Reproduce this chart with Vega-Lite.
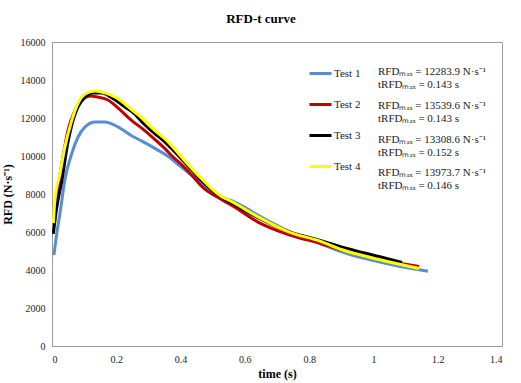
{
  "$schema": "https://vega.github.io/schema/vega-lite/v6.json",
  "autosize": "none",
  "width": 450,
  "height": 304,
  "padding": {"left": 52, "top": 42, "right": 19, "bottom": 37},
  "background": "white",
  "title": {"text": "RFD-t curve", "fontSize": 13, "font": "Liberation Serif", "fontWeight": "bold", "color": "#000000", "anchor": "middle", "dx": -16, "offset": 11},
  "config": {
    "view": {"stroke": "#9a9a9a", "strokeWidth": 1},
    "font": "Liberation Serif",
    "axis": {"grid": false, "ticks": false, "labelOverlap": false, "domainColor": "#9a9a9a", "labelFont": "Liberation Serif", "labelFontSize": 10, "labelColor": "#222222", "titleFont": "Liberation Serif", "titleFontSize": 12, "titleFontWeight": "bold", "titleColor": "#000000"},
    "axisX": {"format": "~g", "labelPadding": 8, "titlePadding": 4},
    "axisY": {"format": "d", "labelPadding": 7, "titlePadding": 6}
  },
  "datasets": {
    "curves": [
      {"test": "Test 1", "t": 0.006, "rfd": 4790},
      {"test": "Test 1", "t": 0.015, "rfd": 5950},
      {"test": "Test 1", "t": 0.025, "rfd": 7000},
      {"test": "Test 1", "t": 0.04, "rfd": 8740},
      {"test": "Test 1", "t": 0.062, "rfd": 10160},
      {"test": "Test 1", "t": 0.081, "rfd": 11000},
      {"test": "Test 1", "t": 0.103, "rfd": 11530},
      {"test": "Test 1", "t": 0.134, "rfd": 11790},
      {"test": "Test 1", "t": 0.165, "rfd": 11790},
      {"test": "Test 1", "t": 0.205, "rfd": 11530},
      {"test": "Test 1", "t": 0.249, "rfd": 11050},
      {"test": "Test 1", "t": 0.28, "rfd": 10780},
      {"test": "Test 1", "t": 0.32, "rfd": 10400},
      {"test": "Test 1", "t": 0.355, "rfd": 10050},
      {"test": "Test 1", "t": 0.40, "rfd": 9450},
      {"test": "Test 1", "t": 0.44, "rfd": 8900},
      {"test": "Test 1", "t": 0.463, "rfd": 8580},
      {"test": "Test 1", "t": 0.526, "rfd": 7860},
      {"test": "Test 1", "t": 0.557, "rfd": 7660},
      {"test": "Test 1", "t": 0.60, "rfd": 7300},
      {"test": "Test 1", "t": 0.647, "rfd": 6820},
      {"test": "Test 1", "t": 0.70, "rfd": 6350},
      {"test": "Test 1", "t": 0.74, "rfd": 6000},
      {"test": "Test 1", "t": 0.80, "rfd": 5620},
      {"test": "Test 1", "t": 0.86, "rfd": 5220},
      {"test": "Test 1", "t": 0.92, "rfd": 4850},
      {"test": "Test 1", "t": 1.00, "rfd": 4500},
      {"test": "Test 1", "t": 1.08, "rfd": 4200},
      {"test": "Test 1", "t": 1.17, "rfd": 3930},
      {"test": "Test 2", "t": 0.004, "rfd": 6450},
      {"test": "Test 2", "t": 0.019, "rfd": 8370},
      {"test": "Test 2", "t": 0.034, "rfd": 9950},
      {"test": "Test 2", "t": 0.05, "rfd": 11370},
      {"test": "Test 2", "t": 0.072, "rfd": 12420},
      {"test": "Test 2", "t": 0.093, "rfd": 12950},
      {"test": "Test 2", "t": 0.118, "rfd": 13160},
      {"test": "Test 2", "t": 0.143, "rfd": 13100},
      {"test": "Test 2", "t": 0.174, "rfd": 12950},
      {"test": "Test 2", "t": 0.205, "rfd": 12530},
      {"test": "Test 2", "t": 0.249, "rfd": 11850},
      {"test": "Test 2", "t": 0.28, "rfd": 11450},
      {"test": "Test 2", "t": 0.318, "rfd": 10900},
      {"test": "Test 2", "t": 0.355, "rfd": 10320},
      {"test": "Test 2", "t": 0.37, "rfd": 10050},
      {"test": "Test 2", "t": 0.40, "rfd": 9600},
      {"test": "Test 2", "t": 0.44, "rfd": 8900},
      {"test": "Test 2", "t": 0.463, "rfd": 8450},
      {"test": "Test 2", "t": 0.526, "rfd": 7720},
      {"test": "Test 2", "t": 0.557, "rfd": 7420},
      {"test": "Test 2", "t": 0.647, "rfd": 6470},
      {"test": "Test 2", "t": 0.74, "rfd": 5840},
      {"test": "Test 2", "t": 0.834, "rfd": 5400},
      {"test": "Test 2", "t": 0.90, "rfd": 5060},
      {"test": "Test 2", "t": 1.02, "rfd": 4560},
      {"test": "Test 2", "t": 1.10, "rfd": 4300},
      {"test": "Test 2", "t": 1.142, "rfd": 4180},
      {"test": "Test 3", "t": 0.004, "rfd": 5900},
      {"test": "Test 3", "t": 0.015, "rfd": 7320},
      {"test": "Test 3", "t": 0.031, "rfd": 8740},
      {"test": "Test 3", "t": 0.047, "rfd": 10470},
      {"test": "Test 3", "t": 0.066, "rfd": 11900},
      {"test": "Test 3", "t": 0.081, "rfd": 12580},
      {"test": "Test 3", "t": 0.103, "rfd": 13100},
      {"test": "Test 3", "t": 0.128, "rfd": 13320},
      {"test": "Test 3", "t": 0.156, "rfd": 13320},
      {"test": "Test 3", "t": 0.187, "rfd": 13050},
      {"test": "Test 3", "t": 0.227, "rfd": 12580},
      {"test": "Test 3", "t": 0.258, "rfd": 12200},
      {"test": "Test 3", "t": 0.28, "rfd": 11790},
      {"test": "Test 3", "t": 0.318, "rfd": 11210},
      {"test": "Test 3", "t": 0.355, "rfd": 10680},
      {"test": "Test 3", "t": 0.37, "rfd": 10420},
      {"test": "Test 3", "t": 0.40, "rfd": 9900},
      {"test": "Test 3", "t": 0.463, "rfd": 8740},
      {"test": "Test 3", "t": 0.526, "rfd": 7840},
      {"test": "Test 3", "t": 0.557, "rfd": 7550},
      {"test": "Test 3", "t": 0.647, "rfd": 6700},
      {"test": "Test 3", "t": 0.74, "rfd": 6000},
      {"test": "Test 3", "t": 0.834, "rfd": 5560},
      {"test": "Test 3", "t": 0.90, "rfd": 5220},
      {"test": "Test 3", "t": 1.02, "rfd": 4700},
      {"test": "Test 3", "t": 1.089, "rfd": 4400},
      {"test": "Test 4", "t": 0.004, "rfd": 6470},
      {"test": "Test 4", "t": 0.009, "rfd": 7680},
      {"test": "Test 4", "t": 0.025, "rfd": 9100},
      {"test": "Test 4", "t": 0.04, "rfd": 10470},
      {"test": "Test 4", "t": 0.062, "rfd": 11900},
      {"test": "Test 4", "t": 0.081, "rfd": 12790},
      {"test": "Test 4", "t": 0.109, "rfd": 13320},
      {"test": "Test 4", "t": 0.134, "rfd": 13420},
      {"test": "Test 4", "t": 0.165, "rfd": 13320},
      {"test": "Test 4", "t": 0.202, "rfd": 13050},
      {"test": "Test 4", "t": 0.249, "rfd": 12420},
      {"test": "Test 4", "t": 0.28, "rfd": 12000},
      {"test": "Test 4", "t": 0.318, "rfd": 11370},
      {"test": "Test 4", "t": 0.355, "rfd": 10840},
      {"test": "Test 4", "t": 0.37, "rfd": 10580},
      {"test": "Test 4", "t": 0.40, "rfd": 10000},
      {"test": "Test 4", "t": 0.463, "rfd": 8840},
      {"test": "Test 4", "t": 0.526, "rfd": 7880},
      {"test": "Test 4", "t": 0.557, "rfd": 7620},
      {"test": "Test 4", "t": 0.647, "rfd": 6740},
      {"test": "Test 4", "t": 0.74, "rfd": 5980},
      {"test": "Test 4", "t": 0.834, "rfd": 5520},
      {"test": "Test 4", "t": 0.90, "rfd": 5080},
      {"test": "Test 4", "t": 1.02, "rfd": 4540},
      {"test": "Test 4", "t": 1.142, "rfd": 4080}
    ],
    "notes": [
      {"test": "Test 1", "label": "RFDₘₐₓ = 12283.9 N·s⁻¹\ntRFDₘₐₓ = 0.143 s"},
      {"test": "Test 2", "label": "RFDₘₐₓ = 13539.6 N·s⁻¹\ntRFDₘₐₓ = 0.143 s"},
      {"test": "Test 3", "label": "RFDₘₐₓ = 13308.6 N·s⁻¹\ntRFDₘₐₓ = 0.152 s"},
      {"test": "Test 4", "label": "RFDₘₐₓ = 13973.7 N·s⁻¹\ntRFDₘₐₓ = 0.146 s"}
    ]
  },
  "layer": [
    {
      "data": {"name": "curves"},
      "mark": {"type": "line", "strokeWidth": 3, "interpolate": "monotone", "clip": true},
      "encoding": {
        "x": {"field": "t", "type": "quantitative", "title": "time (s)", "scale": {"domain": [0, 1.4], "nice": false}, "axis": {"values": [0, 0.2, 0.4, 0.6, 0.8, 1, 1.2, 1.4]}},
        "y": {"field": "rfd", "type": "quantitative", "title": "RFD (N·s⁻¹)", "scale": {"domain": [0, 16000], "nice": false}, "axis": {"values": [0, 2000, 4000, 6000, 8000, 10000, 12000, 14000, 16000]}},
        "color": {"field": "test", "type": "nominal", "scale": {"domain": ["Test 1", "Test 2", "Test 3", "Test 4"], "range": ["#558ED5", "#C00000", "#000000", "#FFFF00"]},
          "legend": {"title": null, "orient": "none", "legendX": 256, "legendY": 19, "symbolType": "stroke", "symbolSize": 484, "symbolStrokeWidth": 3, "labelFont": "Liberation Serif", "labelFontSize": 11, "labelColor": "#222222", "labelOffset": 1, "rowPadding": 12, "padding": 0}},
        "order": {"field": "t", "type": "quantitative"}
      }
    },
    {
      "data": {"name": "notes"},
      "transform": [{"filter": "datum.test == 'Test 1'"}],
      "mark": {"type": "text", "align": "left", "baseline": "middle", "lineBreak": "\n", "lineHeight": 13, "fontSize": 11, "font": "Liberation Serif", "color": "#222222"},
      "encoding": {"x": {"datum": 1.0142, "type": "quantitative", "title": "time (s)", "axis": {"values": [0, 0.2, 0.4, 0.6, 0.8, 1, 1.2, 1.4]}}, "y": {"datum": 14447, "type": "quantitative", "title": "RFD (N·s⁻¹)", "axis": {"values": [0, 2000, 4000, 6000, 8000, 10000, 12000, 14000, 16000]}}, "text": {"field": "label"}}
    },
    {
      "data": {"name": "notes"},
      "transform": [{"filter": "datum.test == 'Test 2'"}],
      "mark": {"type": "text", "align": "left", "baseline": "middle", "lineBreak": "\n", "lineHeight": 13, "fontSize": 11, "font": "Liberation Serif", "color": "#222222"},
      "encoding": {"x": {"datum": 1.0142, "type": "quantitative", "title": "time (s)", "axis": {"values": [0, 0.2, 0.4, 0.6, 0.8, 1, 1.2, 1.4]}}, "y": {"datum": 12657, "type": "quantitative", "title": "RFD (N·s⁻¹)", "axis": {"values": [0, 2000, 4000, 6000, 8000, 10000, 12000, 14000, 16000]}}, "text": {"field": "label"}}
    },
    {
      "data": {"name": "notes"},
      "transform": [{"filter": "datum.test == 'Test 3'"}],
      "mark": {"type": "text", "align": "left", "baseline": "middle", "lineBreak": "\n", "lineHeight": 13, "fontSize": 11, "font": "Liberation Serif", "color": "#222222"},
      "encoding": {"x": {"datum": 1.0142, "type": "quantitative", "title": "time (s)", "axis": {"values": [0, 0.2, 0.4, 0.6, 0.8, 1, 1.2, 1.4]}}, "y": {"datum": 10868, "type": "quantitative", "title": "RFD (N·s⁻¹)", "axis": {"values": [0, 2000, 4000, 6000, 8000, 10000, 12000, 14000, 16000]}}, "text": {"field": "label"}}
    },
    {
      "data": {"name": "notes"},
      "transform": [{"filter": "datum.test == 'Test 4'"}],
      "mark": {"type": "text", "align": "left", "baseline": "middle", "lineBreak": "\n", "lineHeight": 13, "fontSize": 11, "font": "Liberation Serif", "color": "#222222"},
      "encoding": {"x": {"datum": 1.0142, "type": "quantitative", "title": "time (s)", "axis": {"values": [0, 0.2, 0.4, 0.6, 0.8, 1, 1.2, 1.4]}}, "y": {"datum": 9079, "type": "quantitative", "title": "RFD (N·s⁻¹)", "axis": {"values": [0, 2000, 4000, 6000, 8000, 10000, 12000, 14000, 16000]}}, "text": {"field": "label"}}
    }
  ]
}
